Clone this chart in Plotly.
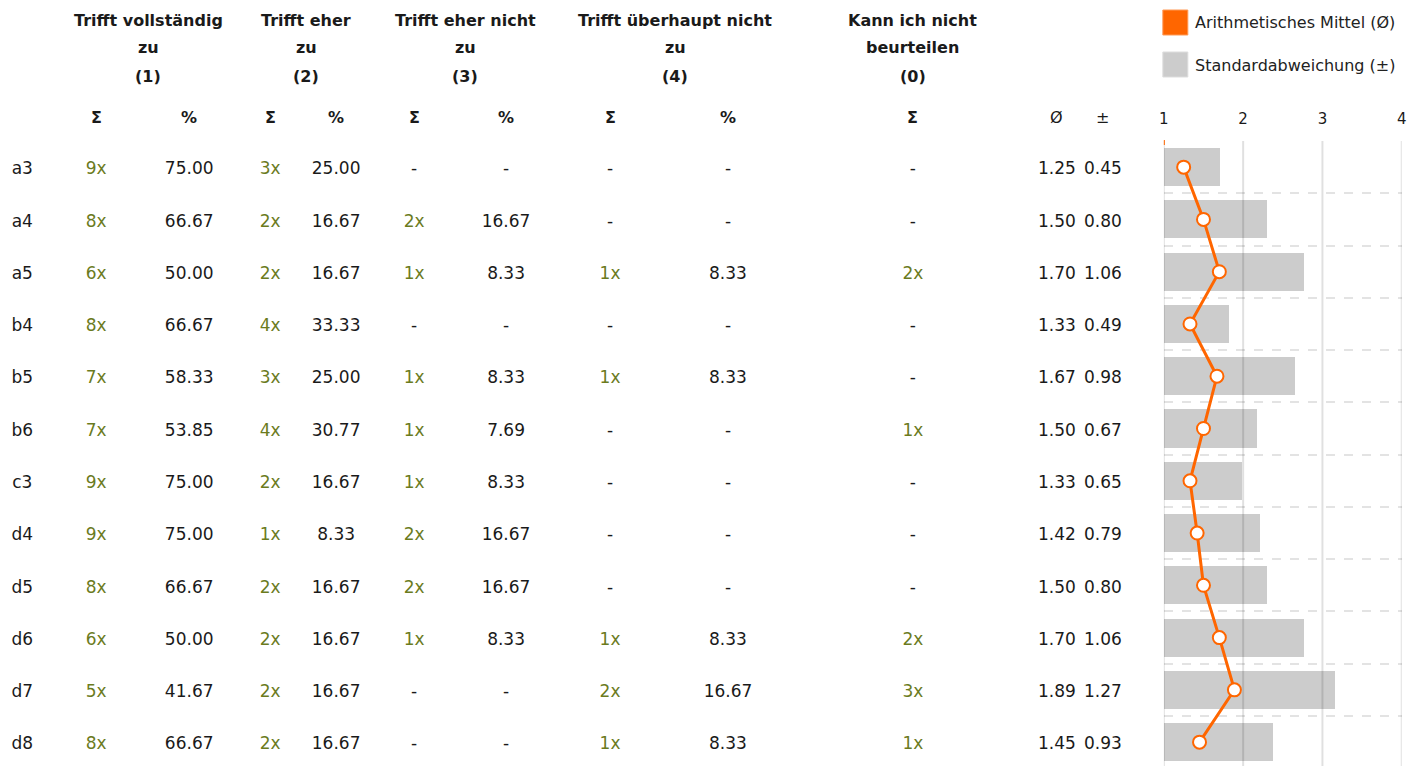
import plotly.graph_objects as go

# ---------------- data ----------------
rows = ["a3", "a4", "a5", "b4", "b5", "b6", "c3", "d4", "d5", "d6", "d7", "d8"]
n1 = [9, 8, 6, 8, 7, 7, 9, 9, 8, 6, 5, 8]
p1 = [75.00, 66.67, 50.00, 66.67, 58.33, 53.85, 75.00, 75.00, 66.67, 50.00, 41.67, 66.67]
n2 = [3, 2, 2, 4, 3, 4, 2, 1, 2, 2, 2, 2]
p2 = [25.00, 16.67, 16.67, 33.33, 25.00, 30.77, 16.67, 8.33, 16.67, 16.67, 16.67, 16.67]
n3 = [None, 2, 1, None, 1, 1, 1, 2, 2, 1, None, None]
p3 = [None, 16.67, 8.33, None, 8.33, 7.69, 8.33, 16.67, 16.67, 8.33, None, None]
n4 = [None, None, 1, None, 1, None, None, None, None, 1, 2, 1]
p4 = [None, None, 8.33, None, 8.33, None, None, None, None, 8.33, 16.67, 8.33]
n0 = [None, None, 2, None, None, 1, None, None, None, 2, 3, 1]
mean = [1.25, 1.50, 1.70, 1.33, 1.67, 1.50, 1.33, 1.42, 1.50, 1.70, 1.89, 1.45]
sd = [0.45, 0.80, 1.06, 0.49, 0.98, 0.67, 0.65, 0.79, 0.80, 1.06, 1.27, 0.93]

group_titles = [
    ["Trifft vollständig", "zu", "(1)"],
    ["Trifft eher", "zu", "(2)"],
    ["Trifft eher nicht", "zu", "(3)"],
    ["Trifft überhaupt nicht", "zu", "(4)"],
    ["Kann ich nicht", "beurteilen", "(0)"],
]
x_ticks = [1, 2, 3, 4]
legend_labels = ["Arithmetisches Mittel (Ø)", "Standardabweichung (±)"]

# ---------------- style / layout ----------------
W, H = 1417, 766
FONT = "Tahoma, 'DejaVu Sans', sans-serif"
FS = 17
FSB = 16
ORANGE = "#ff6600"
BARGREY = "#cccccc"
GREEN = "#6b7b1e"
TXT = "#1a1a1a"
SCALE = 0.9933


def hx(x):
    # horizontal pixel position (slight correction for the rendering pipeline)
    return (x - W / 2 * (1 - SCALE)) / SCALE


def px(x):
    return hx(x) / W


def py(y):
    return max(0.0, min(1.0, 1 - y / H))


n = len(rows)
idx = list(range(n))
ROW0, ROW_LAST = 167, 742          # target centres of first / last row
row_h = (ROW_LAST - ROW0) / (n - 1)
top_pix = 141
bot_pix = H
y_domain = [0.0, 1 - top_pix / H]
r_top = -0.5
r_bot = r_top + (bot_pix - top_pix) / row_h
y_range = [r_bot, r_top]
TEXT_SHIFT = 3 / row_h
y_range_txt = [r_bot - TEXT_SHIFT, r_top - TEXT_SHIFT]

# table column centres (in table-axis units = pixels)
col = dict(label=22, n1=96, p1=189, n2=270, p2=336, n3=414, p3=506,
           n4=610, p4=728, n0=913, m=1057, s=1103)
col = {k: hx(v) for k, v in col.items()}
group_x = [hx(v) for v in [148, 306, 465, 675, 913]]

fig = go.Figure()

# ---- chart: standard deviation bars ----
base = [max(1, m - s) for m, s in zip(mean, sd)]
length = [m + s - b for m, s, b in zip(mean, sd, base)]
fig.add_trace(go.Bar(
    x=length, base=base, y=idx, orientation="h",
    marker=dict(color=BARGREY, line=dict(width=0)),
    width=0.73, xaxis="x", yaxis="y", showlegend=False, hoverinfo="skip",
))
# ---- chart: mean line ----
fig.add_trace(go.Scatter(
    x=mean, y=idx, mode="lines+markers",
    line=dict(color=ORANGE, width=3),
    marker=dict(size=13, color="white", line=dict(color=ORANGE, width=2)),
    xaxis="x", yaxis="y", showlegend=False, hoverinfo="skip",
))


# ---- table text ----
def fmt_n(v):
    return "-" if v is None else f"{v}x"


def fmt_p(v):
    return "-" if v is None else f"{v:.2f}"


def add_col(key, texts, colors):
    fig.add_trace(go.Scatter(
        x=[col[key]] * n, y=idx, mode="text", text=texts,
        textposition="middle center",
        textfont=dict(family=FONT, size=FS, color=colors),
        xaxis="x2", yaxis="y2", showlegend=False, hoverinfo="skip",
    ))


add_col("label", rows, TXT)
for kn, kp, nv, pv in [("n1", "p1", n1, p1), ("n2", "p2", n2, p2),
                       ("n3", "p3", n3, p3), ("n4", "p4", n4, p4)]:
    add_col(kn, [fmt_n(v) for v in nv], [TXT if v is None else GREEN for v in nv])
    add_col(kp, [fmt_p(v) for v in pv], TXT)
add_col("n0", [fmt_n(v) for v in n0], [TXT if v is None else GREEN for v in n0])
add_col("m", [f"{v:.2f}" for v in mean], TXT)
add_col("s", [f"{v:.2f}" for v in sd], TXT)

annotations = []
# group headers
for gx, lines in zip(group_x, group_titles):
    for li, t in enumerate(lines):
        annotations.append(dict(
            x=gx, y=py(20 + 28 * li), xref="x2", yref="paper", text=f"<b>{t}</b>",
            showarrow=False, xanchor="center", yanchor="middle",
            font=dict(family=FONT, size=FSB, color=TXT)))
# sub headers
sub = [("n1", "<b>Σ</b>"), ("p1", "<b>%</b>"), ("n2", "<b>Σ</b>"), ("p2", "<b>%</b>"),
       ("n3", "<b>Σ</b>"), ("p3", "<b>%</b>"), ("n4", "<b>Σ</b>"), ("p4", "<b>%</b>"),
       ("n0", "<b>Σ</b>"), ("m", "Ø"), ("s", "±")]
for k, t in sub:
    annotations.append(dict(
        x=col[k], y=py(117), xref="x2", yref="paper", text=t,
        showarrow=False, xanchor="center", yanchor="middle",
        font=dict(family=FONT, size=FSB, color=TXT)))

# legend
shapes = []
leg = [(ORANGE, "#ff9955", 10, 35, 23), (BARGREY, "#dddddd", 52, 77, 65)]
for (fc, lc, y0, y1, yt), lab in zip(leg, legend_labels):
    shapes.append(dict(type="rect", xref="paper", yref="paper",
                       x0=px(1163), x1=px(1188), y0=py(y1), y1=py(y0),
                       fillcolor=fc, line=dict(color=lc, width=1)))
    annotations.append(dict(x=px(1193), y=py(yt), xref="paper", yref="paper", text=lab,
                            showarrow=False, xanchor="left", yanchor="middle",
                            font=dict(family=FONT, size=16, color="#222")))

# vertical grid lines drawn above bars
for xv in x_ticks:
    shapes.append(dict(type="line", xref="x", yref="paper", x0=xv, x1=xv,
                       y0=y_domain[0], y1=y_domain[1], layer="above",
                       line=dict(color="rgba(0,0,0,0.12)", width=2)))
# small orange tick at the origin
shapes.append(dict(type="line", xref="x", yref="paper", x0=1, x1=1,
                   y0=py(145), y1=py(140), layer="above",
                   line=dict(color=ORANGE, width=2)))

fig.update_layout(
    width=W, height=H, margin=dict(l=0, r=0, t=0, b=0),
    paper_bgcolor="white", plot_bgcolor="white",
    font=dict(family=FONT, size=FS, color=TXT),
    xaxis=dict(domain=[px(1164), min(1, px(1402))], range=[1, 4], side="top",
               tickvals=x_ticks, ticktext=[str(v) for v in x_ticks],
               showgrid=False, zeroline=False, showline=False, ticks="",
               ticklabelstandoff=13, tickfont=dict(family=FONT, size=15, color=TXT),
               anchor="y", fixedrange=True),
    yaxis=dict(domain=y_domain, range=y_range, tickvals=[i - 0.5 for i in range(n)],
               showticklabels=False, showgrid=True, gridcolor="#e3e3e3", gridwidth=2,
               griddash="dash", zeroline=False, showline=False, ticks="",
               anchor="x", fixedrange=True),
    xaxis2=dict(domain=[0, 1140 / W], range=[0, 1140], visible=False,
                anchor="y2", fixedrange=True),
    yaxis2=dict(domain=y_domain, range=y_range_txt, visible=False,
                anchor="x2", fixedrange=True),
    bargap=0, annotations=annotations, shapes=shapes,
)

fig.write_html("out.html", config={"displayModeBar": False},
               post_script="document.body.style.margin='0';document.body.style.overflow='hidden';")
